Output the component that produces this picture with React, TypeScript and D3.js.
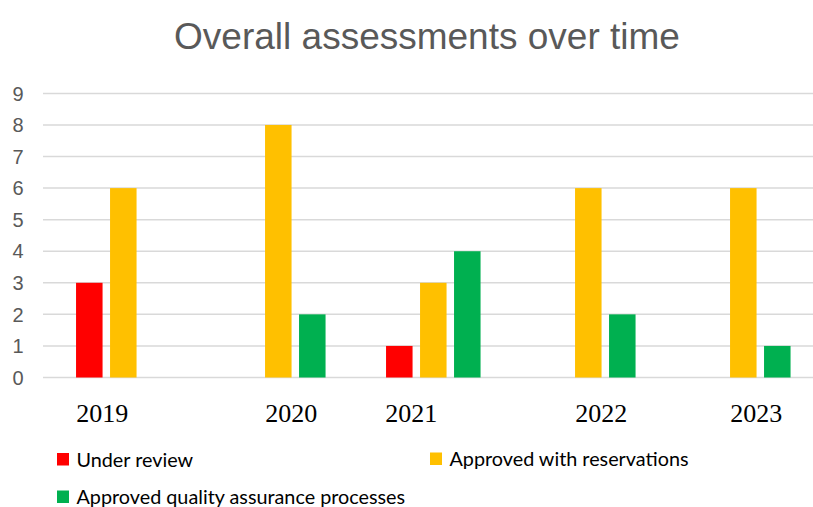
import React from "react";
import * as d3 from "d3";

const years = ["2019", "2020", "2021", "2022", "2023"];
const seriesNames = ["Under review", "Approved with reservations", "Approved quality assurance processes"];
const underReview = [3, 0, 1, 0, 0];
const approvedWithReservations = [6, 8, 3, 6, 6];
const approvedQA = [0, 2, 4, 2, 1];
const seriesColors = ["#FF0000", "#FFC000", "#00B050"];
const yTicks = [0, 1, 2, 3, 4, 5, 6, 7, 8, 9];
const title = "Overall assessments over time";
// layout: horizontal nudges of the year labels relative to group centres
const yearLabelShift = [-21, 13, -22, 13, 13];

const W = 813;
const H = 507;

export default function App() {
  const values = [underReview, approvedWithReservations, approvedQA];
  const x0 = d3.scaleBand<string>().domain(years).range([45.8, 820.8]).paddingInner(0.342).paddingOuter(0.171);
  const x1 = d3.scaleBand<string>().domain(seriesNames).range([0, x0.bandwidth()]).paddingInner(0.22).paddingOuter(0.11);
  const y = d3.scaleLinear().domain([0, 9]).range([377.5, 93.4]);

  const legend = [
    { x: 57, y: 453, tx: 76.5, ty: 466.5 },
    { x: 430, y: 452.5, tx: 449.5, ty: 466 },
    { x: 57, y: 490.5, tx: 76.5, ty: 503.5 },
  ];

  return (
    <svg width={W} height={H} style={{ position: "absolute", left: 0, top: 0, background: "#fff" }}>
      <text x={427} y={49} textAnchor="middle" fontFamily="'Liberation Sans', Arial, sans-serif" fontSize={37} fill="#595959">
        {title}
      </text>
      {yTicks.map((t) => (
        <g key={t}>
          <line x1={43} x2={W} y1={y(t)} y2={y(t)} stroke="#D9D9D9" strokeWidth={1.5} />
          <text x={23.5} y={y(t)} dy="0.36em" textAnchor="end" fontFamily="'Liberation Sans', Arial, sans-serif" fontSize={20} fill="#595959">
            {t}
          </text>
        </g>
      ))}
      {years.map((yr, i) => (
        <g key={yr} transform={`translate(${x0(yr)},0)`}>
          {seriesNames.map((s, j) => {
            const v = values[j][i];
            if (!v) return null;
            return (
              <rect key={s} x={x1(s)} y={y(v)} width={x1.bandwidth()} height={y(0) - y(v)} fill={seriesColors[j]} />
            );
          })}
        </g>
      ))}
      {years.map((yr, i) => (
        <text key={yr} x={(x0(yr) as number) + x0.bandwidth() / 2 + yearLabelShift[i]} y={422} textAnchor="middle"
          fontFamily="'Liberation Serif', 'Times New Roman', serif" fontSize={26} fill="#000">
          {yr}
        </text>
      ))}
      {seriesNames.map((s, j) => (
        <g key={s}>
          <rect x={legend[j].x} y={legend[j].y} width={12} height={12.5} fill={seriesColors[j]} />
          <text x={legend[j].tx} y={legend[j].ty} fontFamily="Lato, 'Open Sans', sans-serif" fontSize={19.8} fill="#000">
            {s}
          </text>
        </g>
      ))}
    </svg>
  );
}
